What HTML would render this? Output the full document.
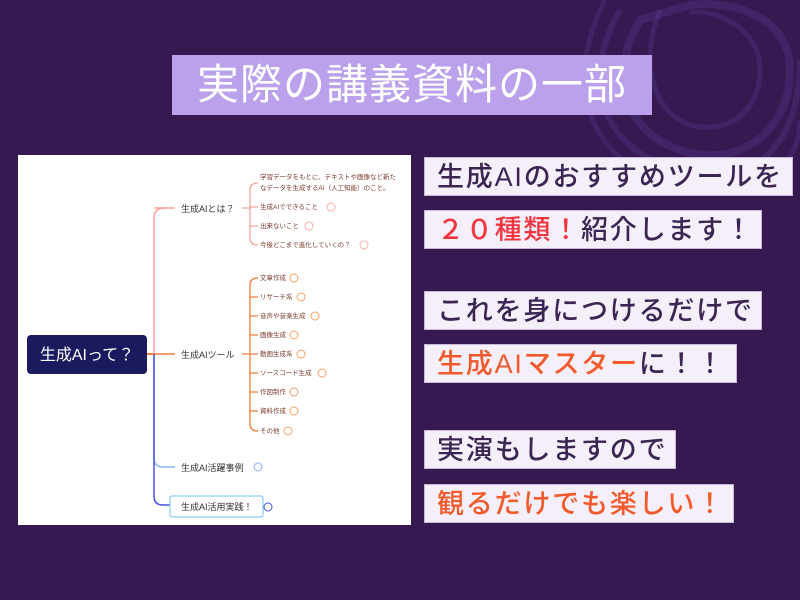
<!DOCTYPE html>
<html><head><meta charset="utf-8"><style>
body{margin:0;width:800px;height:600px;background:#371952;position:relative;overflow:hidden;font-family:"Liberation Sans","Noto Sans CJK JP",sans-serif}
.t{position:absolute;left:172px;top:55px;width:480px;height:60px;background:#bba0eb;color:#fff;font-size:42px;line-height:60px;text-align:center;letter-spacing:1px}
.b{position:absolute;left:424px;height:39px;background:#f5eff9;border:1px solid #c9b7dc;box-sizing:border-box;color:#3a2553;font-size:27px;line-height:38px;padding-left:12px;white-space:nowrap;font-weight:500;letter-spacing:1.8px}
.r{color:#f2353f}.o{color:#f25a2c}
.mm{position:absolute;left:18px;top:155px;width:393px;height:370px;background:#fff}
</style></head><body>
<svg style="position:absolute;left:0;top:0" width="800" height="600">
<g fill="none" stroke="#5a3f96" stroke-opacity="0.3">
<path d="M640 20 C610 70 620 130 680 150 C740 170 790 130 790 70 C790 20 740 0 690 5 Z" stroke-width="8"/>
<path d="M620 10 C580 80 600 150 680 170 C760 190 800 140 800 60" stroke-width="6"/>
<path d="M605 0 C560 90 590 170 690 188 C770 200 800 160 800 120" stroke-width="5"/>
<path d="M660 10 C640 60 650 110 690 125 C730 135 760 110 760 70 C760 30 720 10 690 12" stroke-width="5"/>
</g>
</svg>
<div class="t">実際の講義資料の一部</div>
<div class="mm"><svg width="393" height="370" font-family="Liberation Sans,Noto Sans CJK JP,sans-serif">
<g transform="translate(-18,-155)">
<path d="M147 354 H154" stroke="#f47c3c" stroke-width="2"/>
<path d="M165 208 Q154 208 154 218 V354" stroke="#f8a39b" stroke-width="1.5" fill="none"/>
<path d="M154 354 H175" stroke="#f47c3c" stroke-width="1.5"/>
<path d="M154 354 V458 Q154 467 163 467 H175" stroke="#8db0f8" stroke-width="1.5" fill="none"/>
<path d="M154 354 V496 Q154 505 163 505 H170" stroke="#4a53e0" stroke-width="1.5" fill="none"/>
<path d="M154 208 H175" stroke="#f8a39b" stroke-width="1.5"/>
<path d="M242 208 H250 M258 183 Q250 183 250 190 V238 Q250 245 258 245 M250 207 H258 M250 226 H258" stroke="#f8a39b" stroke-width="1.3" fill="none"/>
<path d="M242 354 H250 M258 278 Q250 278 250 285 V424 Q250 431 258 431 M250 297 H258 M250 316 H258 M250 335 H258 M250 354 H258 M250 373 H258 M250 392 H258 M250 411 H258" stroke="#f47c3c" stroke-width="1.3" fill="none"/>
<rect x="27" y="335" width="120" height="39" rx="4" fill="#1c1a5e"/>
<text x="87" y="360" fill="#fff" font-size="16" text-anchor="middle">生成AIって？</text>
<g font-size="9" fill="#333"><text x="181" y="212">生成AIとは？</text><text x="181" y="358">生成AIツール</text><text x="181" y="471">生成AI活躍事例</text></g>
<rect x="170" y="496" width="93" height="21" rx="2" fill="#fff" stroke="#6fc0f8"/>
<text x="181" y="510" font-size="9" fill="#333">生成AI活用実践！</text>
<circle cx="258" cy="467" r="4" fill="none" stroke="#8db0f8"/><circle cx="268" cy="507" r="4" fill="none" stroke="#4a53e0"/>
<g font-size="6.5" fill="#7a3b2e"><text x="260" y="179">学習データをもとに、テキストや画像など新た</text><text x="260" y="190">なデータを生成するAI（人工知能）のこと。</text><text x="260" y="209">生成AIでできること</text><text x="260" y="228">出来ないこと</text><text x="260" y="247">今後どこまで進化していくの？</text></g>
<g fill="none" stroke="#f8b0a8"><circle cx="331" cy="207" r="4"/><circle cx="309" cy="226" r="4"/><circle cx="364" cy="245" r="4"/></g>
<g font-size="6.5" fill="#7a3b2e"><text x="260" y="280">文章作成</text><text x="260" y="299">リサーチ系</text><text x="260" y="318">音声や音楽生成</text><text x="260" y="337">画像生成</text><text x="260" y="356">動画生成系</text><text x="260" y="375">ソースコード生成</text><text x="260" y="394">作図制作</text><text x="260" y="413">資料作成</text><text x="260" y="433">その他</text></g>
<g fill="none" stroke="#f8a060"><circle cx="294" cy="278" r="4"/><circle cx="301" cy="297" r="4"/><circle cx="315" cy="316" r="4"/><circle cx="294" cy="335" r="4"/><circle cx="301" cy="354" r="4"/><circle cx="322" cy="373" r="4"/><circle cx="294" cy="392" r="4"/><circle cx="294" cy="411" r="4"/><circle cx="288" cy="431" r="4"/></g>
</g></svg></div>
<div class="b" style="top:157px;width:369px">生成AIのおすすめツールを</div>
<div class="b" style="top:210px;width:338px"><span class="r">２０種類！</span>紹介します！</div>
<div class="b" style="top:291px;width:338px">これを身につけるだけで</div>
<div class="b" style="top:344px;width:313px"><span class="o">生成AIマスター</span>に！！</div>
<div class="b" style="top:430px;width:252px">実演もしますので</div>
<div class="b" style="top:484px;width:310px"><span class="o">観るだけでも楽しい！</span></div>
</body></html>
